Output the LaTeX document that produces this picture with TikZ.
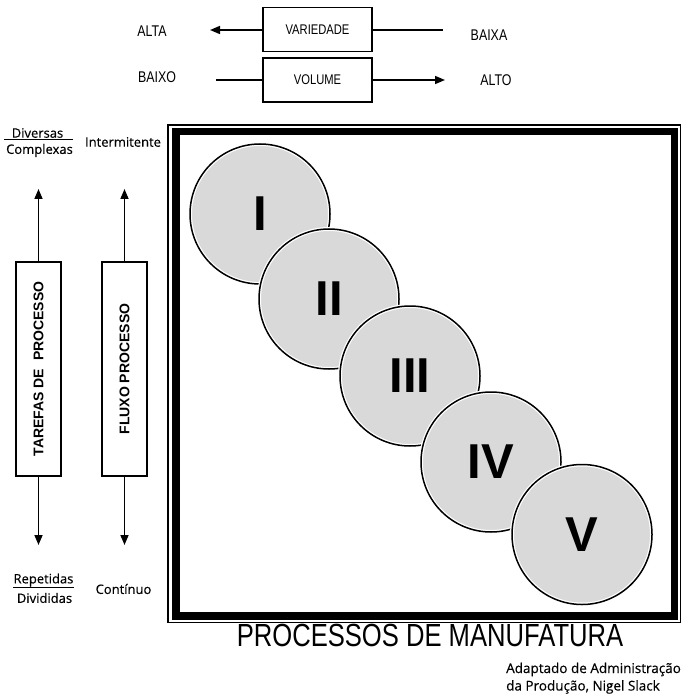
\documentclass[tikz,border=0pt]{standalone}
\usepackage{fontspec}
\usepackage{graphicx}
\setmainfont{Liberation Sans}
\newfontfamily\condfont[FakeStretch=0.8]{Liberation Sans}
\newfontfamily\smallfont[FakeBold=0.4]{Open Sans}
\usetikzlibrary{arrows.meta}
\definecolor{cgray}{RGB}{217,217,217}
\tikzset{
  lbl/.style={font=\condfont\fontsize{15.5}{18}\selectfont, inner sep=0pt},
  hbox/.style={draw, line width=1.5pt, minimum width=109pt, minimum height=44pt, inner sep=0pt,
               font=\condfont\fontsize{14}{17}\selectfont},
  vbox/.style={draw, line width=1.5pt, minimum width=45pt, minimum height=214pt, inner sep=0pt,
               font=\bfseries\fontsize{14}{17}\selectfont},
  arr/.style={-{Triangle[length=10pt,width=8pt]}, line width=1.5pt},
  plainline/.style={line width=1.5pt},
  side/.style={font=\smallfont\fontsize{13}{16}\selectfont, inner sep=0pt},
  circ/.style={circle, minimum size=140pt, inner sep=0pt,
               preaction={fill=cgray, draw=white, line width=4pt},
               draw=black, line width=1.5pt,
               font=\bfseries\fontsize{49}{49}\selectfont}
}
\begin{document}
\begin{tikzpicture}[x=1pt,y=-1pt]
\useasboundingbox (0,0) rectangle (686,700);

% top: variety / volume
\node[hbox] (var) at (317.5,29.5) {VARIEDADE};
\node[hbox] (vol) at (317.5,80) {VOLUME};
\coordinate (varL) at (210,30);
\coordinate (varR) at (443,30);
\coordinate (volL) at (216,80);
\coordinate (volR) at (445,80);
\draw[arr] (var.west |- varL) -- (varL);
\draw[plainline] (var.east |- varR) -- (varR);
\draw[plainline] (volL) -- (vol.west |- volL);
\draw[arr] (vol.east |- volR) -- (volR);
\node[lbl] (alta) at (152,31) {ALTA};
\node[lbl] (baixa) at (489,35) {BAIXA};
\node[lbl] (baixo) at (157,77) {BAIXO};
\node[lbl] (alto) at (496,80) {ALTO};

% left side boxes
\node[vbox] (tar) at (38.5,369) {\rotatebox{90}{TAREFAS DE\ \ PROCESSO}};
\node[vbox] (flu) at (124.5,369) {\rotatebox{90}{FLUXO PROCESSO}};
\coordinate (tarT) at (38.5,189);
\coordinate (tarB) at (38.5,545);
\coordinate (fluT) at (124.5,189);
\coordinate (fluB) at (124.5,545);
\draw[arr] (tar.north) -- (tarT);
\draw[arr] (tar.south) -- (tarB);
\draw[arr] (flu.north) -- (fluT);
\draw[arr] (flu.south) -- (fluB);

\node[side] (div) at (37.5,133) {Diversas};
\node[side] (comp) at (39.5,150.5) {Complexas};
\draw[line width=0.8pt] (4,139.5) -- (73,139.5);
\node[side] (inter) at (123,142) {Intermitente};
\node[side] (rep) at (43.5,580) {Repetidas};
\draw[line width=0.8pt] (13,587) -- (74,587);
\node[side] (divi) at (44.5,598) {Divididas};
\node[side] (cont) at (123.5,589) {Contínuo};

% frame
\draw[line width=1.5pt] (168,125) rectangle (680.5,622.5);
\draw[line width=7.5pt] (176,131.5) rectangle (674.5,616);

% circles
\node[circ] (c1) at (260,214) {I};
\node[circ] (c2) at (329,299) {II};
\node[circ] (c3) at (410,376) {III};
\node[circ] (c4) at (491,462) {IV};
\node[circ] (c5) at (582,534.5) {V};

% bottom
\node[font=\condfont\fontsize{32}{34}\selectfont, inner sep=0pt] (title) at (430,635) {PROCESSOS DE MANUFATURA};
\node[side, anchor=base west, font=\smallfont\fontsize{13.5}{16}\selectfont] (src1) at (506,673) {Adaptado de Administração};
\node[side, anchor=base west, font=\smallfont\fontsize{13.5}{16}\selectfont] (src2) at (506,690.5) {da Produção, Nigel Slack};
\end{tikzpicture}
\end{document}
